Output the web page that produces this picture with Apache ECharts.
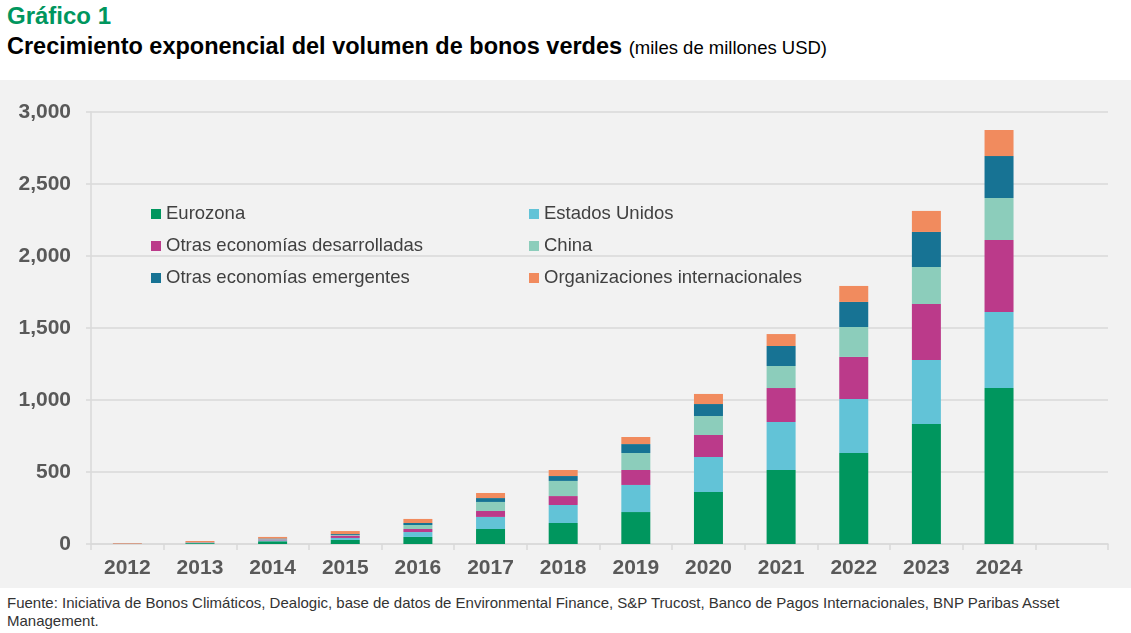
<!DOCTYPE html>
<html>
<head>
<meta charset="utf-8">
<script src="https://cdn.jsdelivr.net/npm/echarts@6/dist/echarts.min.js"></script>
<style>
  body { margin: 0; background: #fff; font-family: "Liberation Sans", Arial, sans-serif; }
  #page { position: relative; width: 1131px; height: 633px; overflow: hidden; }
  #kicker { position: absolute; left: 7px; top: 2px; font-size: 24px; font-weight: bold; color: #00965e; }
  #title { position: absolute; left: 7px; top: 33px; font-size: 23.5px; font-weight: bold; color: #000; white-space: nowrap; }
  #title span { font-size: 18.5px; font-weight: normal; }
  #chart { position: absolute; left: 0; top: 80px; width: 1131px; height: 508px; background: #f2f2f2; }
  #source { position: absolute; left: 7px; top: 594px; font-size: 15px; line-height: 18px; color: #333; white-space: nowrap; }
</style>
</head>
<body>
<div id="page">
  <div id="kicker">Gráfico 1</div>
  <div id="title">Crecimiento exponencial del volumen de bonos verdes <span>(miles de millones USD)</span></div>
  <div id="chart"></div>
  <div id="source">Fuente: Iniciativa de Bonos Climáticos, Dealogic, base de datos de Environmental Finance, S&amp;P Trucost, Banco de Pagos Internacionales, BNP Paribas Asset<br>Management.</div>
</div>
<script>
// años (la última categoría queda vacía, como en el original)
const years = ['2012', '2013', '2014', '2015', '2016', '2017', '2018', '2019', '2020', '2021', '2022', '2023', '2024', ''];

const eurozona      = [1, 6, 19, 28, 49, 104, 146, 222, 361, 514, 632, 833, 1083];
const estadosUnidos = [1, 2, 6, 14, 34, 84, 125, 188, 243, 333, 375, 445, 528];
const otrasDesarr   = [1, 2, 6, 16, 21, 41, 62, 104, 153, 236, 292, 389, 500];
const china         = [0, 1, 3, 4, 28, 63, 105, 118, 132, 153, 208, 257, 292];
const otrasEmerg    = [0, 1, 4, 7, 14, 27, 34, 62, 83, 139, 174, 243, 291];
const orgInternac   = [4, 9, 11, 21, 28, 35, 42, 49, 70, 83, 111, 146, 181];

const seriesDefs = [
  { name: 'Eurozona', data: eurozona, color: '#00965e' },
  { name: 'Estados Unidos', data: estadosUnidos, color: '#62c3d7' },
  { name: 'Otras economías desarrolladas', data: otrasDesarr, color: '#bb3a8a' },
  { name: 'China', data: china, color: '#8ccdbb' },
  { name: 'Otras economías emergentes', data: otrasEmerg, color: '#177394' },
  { name: 'Organizaciones internacionales', data: orgInternac, color: '#f18b5e' }
];

const chart = echarts.init(document.getElementById('chart'));

const legendBase = {
  orient: 'vertical',
  top: 119,
  itemWidth: 10,
  itemHeight: 10,
  itemGap: 12,
  icon: 'rect',
  textStyle: { fontFamily: 'Liberation Sans', fontSize: 18.5, color: '#404040', lineHeight: 20 }
};

chart.setOption({
  animation: false,
  textStyle: { fontFamily: 'Liberation Sans' },
  grid: { left: 91, right: 23, top: 32, bottom: 44 },
  legend: [
    Object.assign({}, legendBase, { left: 146, data: ['Eurozona', 'Otras economías desarrolladas', 'Otras economías emergentes'] }),
    Object.assign({}, legendBase, { left: 524, data: ['Estados Unidos', 'China', 'Organizaciones internacionales'] })
  ],
  xAxis: {
    type: 'category',
    data: years,
    axisLine: { lineStyle: { color: '#d9d9d9', width: 1.5 } },
    axisTick: { show: true, length: 6, lineStyle: { color: '#d9d9d9', width: 1.5 } },
    axisLabel: { margin: 14, fontSize: 21, fontWeight: 'bold', color: '#595959' }
  },
  yAxis: {
    type: 'value',
    min: 0,
    max: 3000,
    interval: 500,
    axisLine: { show: true, lineStyle: { color: '#d9d9d9', width: 1.5 } },
    axisTick: { show: true, length: 5, lineStyle: { color: '#d9d9d9', width: 1.5 } },
    splitLine: { lineStyle: { color: '#d9d9d9', width: 1.5 } },
    axisLabel: {
      margin: 20, fontSize: 21, fontWeight: 'bold', color: '#595959',
      formatter: v => v.toLocaleString('en-US')
    }
  },
  series: seriesDefs.map(s => ({
    name: s.name,
    type: 'bar',
    stack: 'total',
    barWidth: 29,
    data: s.data,
    itemStyle: { color: s.color }
  }))
});

window.addEventListener('resize', () => chart.resize());
</script>
</body>
</html>
